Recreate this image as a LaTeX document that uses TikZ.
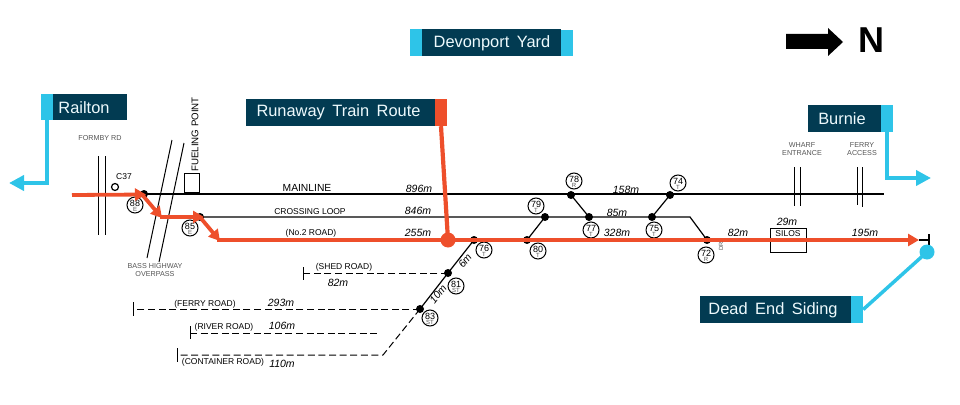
\documentclass[tikz,border=0pt]{standalone}
\usepackage{fontspec}
\setmainfont{Liberation Sans}
\usetikzlibrary{arrows.meta}
\definecolor{navy}{HTML}{023B52}
\definecolor{sky}{HTML}{2EC4E8}
\definecolor{route}{HTML}{EE4F2B}
\definecolor{lab}{HTML}{555555}
\newcommand{\fs}[1]{\fontsize{#1}{#1}\selectfont}
\tikzset{
  x=1pt,y=-1pt,
  banner/.style={fill=navy,minimum height=27pt,inner sep=0pt},
  btext/.style={inner sep=0pt,font=\fs{16.4},text=white!92!sky},
  tab/.style={minimum width=12pt,minimum height=27pt,inner sep=0pt},
  track/.style={draw=black,line width=1.2pt},
  side/.style={draw=black,line width=1pt,dash pattern=on 7pt off 3.6pt},
  cross/.style={draw=black,line width=1pt},
  dotn/.style={circle,fill=black,minimum size=8pt,inner sep=0pt},
  sig/.style={circle,draw=black,fill=white,line width=1pt,minimum size=16pt,inner sep=0pt},
  dist/.style={font=\fs{10.5}\itshape,inner sep=0pt},
  road/.style={font=\fs{8.5},inner sep=0pt},
  small/.style={font=\fs{7.2},text=lab,inner sep=0pt,align=center},
  rr/.style={draw=route,line width=3.8pt},
  rhead/.style={-{Triangle[length=11pt,width=12pt,fill=route]}},
  sk/.style={draw=sky,line width=4.5pt},
  skhead/.style={-{Triangle[length=15pt,width=15pt,fill=sky]}},
}
\newcommand{\signum}[4]{\node[sig] (#1) at (#2) {}; \node[inner sep=0pt,font=\fs{9}] at ([yshift=1.8pt]#1.center) {#3}; \node[inner sep=0pt,font=\fs{6},text=lab] at ([yshift=-4.6pt]#1.center) {#4};}
\begin{document}
\begin{tikzpicture}
\useasboundingbox (0,0) rectangle (960,404);
% coordinates
\coordinate (mE) at (884,194);
\coordinate (corner) at (690,217);
% dots
\node[dotn] (n88) at (144,194) {};
\node[dotn] (n85) at (200,217) {};
\node[dotn] (n78) at (571,195) {};
\node[dotn] (n77) at (589,217) {};
\node[dotn] (n79) at (545,217) {};
\node[dotn] (n80) at (527,240) {};
\node[dotn] (n74) at (670,195) {};
\node[dotn] (n75) at (652,217) {};
\node[dotn] (n72) at (707,240) {};
\node[dotn] (n76) at (474,240) {};
\node[dotn] (n81) at (448,273) {};
\node[dotn] (n83) at (420,309) {};
% tracks
\draw[track] (n88.center) -- (mE);
\draw[track] (n85.center) -- (corner) -- (n72.center);
\draw[track] (n78.center) -- (n77.center);
\draw[track] (n79.center) -- (n80.center);
\draw[track] (n74.center) -- (n75.center);
\draw[track] (n76.center) -- (n81.center) -- (n83.center);
% sidings
\coordinate (shedE) at (303,273); \coordinate (ferryE) at (133,309);
\coordinate (riverA) at (190,333); \coordinate (riverB) at (379,333);
\coordinate (contB) at (383,355); \coordinate (contE) at (177,355);
\draw[side] (n81.center) -- (shedE);
\draw[side] (n83.center) -- (ferryE);
\draw[side] (riverA) -- (riverB);
\draw[side] (n83.center) -- (contB) -- (contE);
\draw[cross] (303,267) -- (303,280);
\draw[cross] (133,302) -- (133,316);
\draw[cross] (190,326) -- (190,339);
\draw[cross] (177,348) -- (177,362);
% crossings
\draw[cross] (98,156) -- (98,235);
\draw[cross] (105,156) -- (105,235);
\draw[cross] (172,140) -- (147,258);
\draw[cross] (184,143) -- (159,262);
\draw[cross] (794,167) -- (794,206);
\draw[cross] (800,167) -- (800,206);
\draw[cross] (857,167) -- (857,205);
\draw[cross] (862,167) -- (862,207);
% boxes
\node[draw=black,line width=1pt,minimum width=15pt,minimum height=19pt,inner sep=0pt] (fuel) at (191.5,182.5) {};
\node[draw=black,fill=white,line width=1pt,minimum width=36pt,minimum height=24pt,inner sep=0pt] (silo) at (788,240) {};
\node[font=\fs{8.5},inner sep=0pt] at (788,234) {SILOS};
\node[circle,draw=black,line width=1.2pt,minimum size=7pt,inner sep=0pt] (c37) at (115,187) {};
\node[font=\fs{8.5},inner sep=0pt] at (124,177) {C37};
% signals
\signum{s88}{135,205}{88}{E}
\signum{s85}{190,228}{85}{E}
\signum{s78}{574,181}{78}{R}
\signum{s77}{591,230}{77}{T}
\signum{s79}{536,206}{79}{T}
\signum{s80}{538,251}{80}{T}
\signum{s74}{678,183}{74}{T}
\signum{s75}{654,230}{75}{T}
\signum{s72}{706,255}{72}{R}
\signum{s76}{484,250}{76}{T}
\signum{s81}{456,286}{81}{ST}
\signum{s83}{430,318}{83}{ST}
% end stop
\coordinate (rEnd) at (919,240);
\coordinate (stop) at (929,240);
\draw[black,line width=1.2pt] (rEnd) -- (stop);
\draw[black,line width=1.2pt] (929,234) -- (929,246);
% route
\coordinate (r0) at (72,195); \coordinate (r1) at (146,194.5); \coordinate (r1b) at (142,194.5);
\coordinate (r2) at (160,217); \coordinate (r3) at (204,217); \coordinate (r4) at (217,240);
\draw[rr,rhead] (r0) -- (r1);
\draw[rr,rhead] (r1b) -- (162,218);
\draw[rr,rhead] (r2) -- (r3);
\draw[rr,rhead] (199,216) -- (220,241);
\draw[rr,rhead] (r4) -- (rEnd);
% banners
\node[tab,fill=sky] (devL) at (416,42.5) {};
\node[banner,minimum width=139pt] (dev) at (491.5,42.5) {};
\node[btext] at (492,43) {Devonport\hspace{3pt} Yard};
\node[tab,fill=sky,minimum height=26pt] (devR) at (567,43) {};
\node[tab,fill=sky,minimum height=26pt] (rail) at (47,107) {};
\node[banner,minimum width=74pt,minimum height=26pt] (railT) at (90,107) {};
\node[btext] at (84,108) {Railton};
\node[banner,minimum width=189pt] (run) at (340.5,112.5) {};
\node[btext] at (338.5,112) {Runaway\hspace{3pt} Train\hspace{3pt} Route};
\node[tab,fill=route] (runT) at (441,112.5) {};
\node[banner,minimum width=73pt] (bur) at (844.5,118.5) {};
\node[btext] at (842,119) {Burnie};
\node[tab,fill=sky] (burT) at (887,118.5) {};
\node[banner,minimum width=151pt] (dead) at (775.5,309.5) {};
\node[btext] at (773,310) {Dead\hspace{3pt} End\hspace{3pt} Siding};
\node[tab,fill=sky] (deadT) at (857,309.5) {};
% banner connectors
\node[circle,fill=route,minimum size=15pt,inner sep=0pt] (hit) at (448,240) {};
\draw[draw=route,line width=4.2pt] (runT.south) -- (hit.center);
\coordinate (railA) at (47,183); \coordinate (railTip) at (9,183);
\draw[sk,skhead] (rail.south) -- (railA) -- (railTip);
\coordinate (burA) at (887,178); \coordinate (burTip) at (931,178);
\draw[sk,skhead] (burT.south) -- (burA) -- (burTip);
\node[circle,fill=sky,minimum size=15pt,inner sep=0pt] (deadDot) at (927,252) {};
\draw[draw=sky,line width=3.5pt] (deadT.east) -- (deadDot.center);
% north arrow
\fill[black] (786,34) -- (828,34) -- (828,28) -- (843,42) -- (828,56) -- (828,49) -- (786,49) -- cycle;
\node[inner sep=0pt,font=\fs{36}\bfseries] (north) at (871,40) {N};
% labels
\node[small] at (100,138) {FORMBY RD};
\node[small] at (155,270) {BASS HIGHWAY\\OVERPASS};
\node[small] at (802,149) {WHARF\\ENTRANCE};
\node[small] at (862,149) {FERRY\\ACCESS};
\node[inner sep=0pt,font=\fs{9.7},rotate=90] at (195,134.5) {FUELING POINT};
\node[inner sep=0pt,font=\fs{6},text=lab,rotate=90] at (721,246) {DR};
\node[font=\fs{10.3},inner sep=0pt] at (307,188) {MAINLINE};
\node[road] at (310,212) {CROSSING LOOP};
\node[road] at (311,233) {(No.2 ROAD)};
\node[road] at (344,267) {(SHED ROAD)};
\node[road] at (205,304) {(FERRY ROAD)};
\node[road] at (224,327) {(RIVER ROAD)};
\node[road] at (223,362) {(CONTAINER ROAD)};
\node[dist] at (419,189) {896m};
\node[dist] at (418,211) {846m};
\node[dist] at (418,233) {255m};
\node[dist] at (626,190) {158m};
\node[dist] at (617,213) {85m};
\node[dist] at (617,233) {328m};
\node[dist] at (738,233) {82m};
\node[dist] at (787,222) {29m};
\node[dist] at (865,233) {195m};
\node[dist] at (338,283) {82m};
\node[dist] at (281,303) {293m};
\node[dist] at (282,326) {106m};
\node[dist] at (282,364) {110m};
\node[dist,rotate=52] at (465,261) {6m};
\node[dist,rotate=52] at (438,294) {10m};
\end{tikzpicture}
\end{document}
